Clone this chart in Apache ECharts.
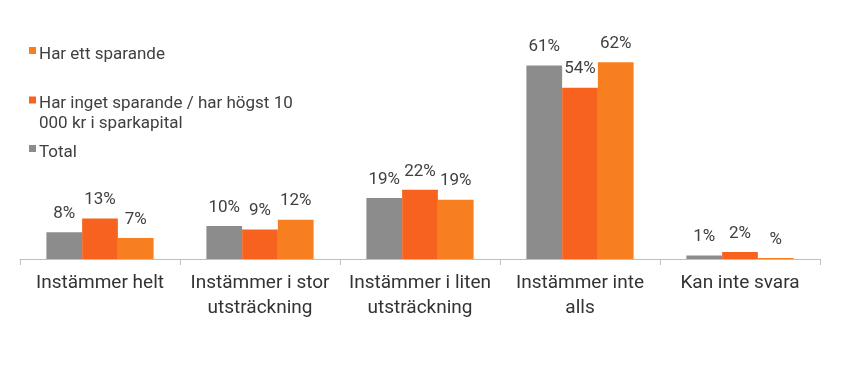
<!DOCTYPE html>
<html>
<head>
<meta charset="utf-8">
<script src="https://cdn.jsdelivr.net/npm/echarts@6/dist/echarts.min.js"></script>
<style>html,body{margin:0;padding:0;background:#fff;}#c{width:848px;height:367px;}</style>
</head>
<body>
<div id="c"></div>
<script>
var categories = ['Instämmer helt', 'Instämmer i stor\nutsträckning', 'Instämmer i liten\nutsträckning', 'Instämmer inte\nalls', 'Kan inte svara'];
var seriesNames = ['Total', 'Har inget sparande / har högst 10\n000 kr i sparkapital', 'Har ett sparande'];
var totalValues = [8.4, 10.4, 19.2, 61, 1.1];
var ingetValues = [12.8, 9.3, 21.8, 54, 2.2];
var ettValues = [6.6, 12.4, 18.7, 62, 0.3];
var valueLabels = {
  total: ['8%', '10%', '19%', '61%', '1%'],
  inget: ['13%', '9%', '22%', '54%', '2%'],
  ett: ['7%', '12%', '19%', '62%', '%']
};
var colors = ['#8c8c8c', '#f7621e', '#f87f1f'];
var FONT = 'Roboto';

var chart = echarts.init(document.getElementById('c'), null, {renderer: 'canvas'});
function mkSeries(name, data, labels, color) {
  return {
    name: name, type: 'bar', data: data, barGap: '0%', barCategoryGap: '33%',
    itemStyle: {color: color},
    label: {show: true, position: 'top', distance: 10, color: '#404040', fontFamily: FONT, fontSize: 17,
      formatter: function (p) { return labels[p.dataIndex]; }}
  };
}
function mkLegend(name, top, iconH) {
  return {
    data: [name], left: 24, top: top, orient: 'vertical', itemWidth: 7, itemHeight: iconH, itemGap: 4,
    icon: 'path://M0,0L7,0L7,7L0,7Z M0,' + iconH + 'L0.01,' + iconH + 'L0.01,' + (iconH - 0.01) + 'Z',
    textStyle: {color: '#404040', fontFamily: FONT, fontSize: 17, lineHeight: 20, padding: [0, 0, 0, -2]}
  };
}
chart.setOption({
  animation: false,
  legend: [mkLegend(seriesNames[2], 40, 16), mkLegend(seriesNames[1], 89, 35), mkLegend(seriesNames[0], 138, 16)],
  grid: {left: 20, right: 28, top: 37, bottom: 108, containLabel: false},
  xAxis: {
    type: 'category', data: categories,
    axisLine: {lineStyle: {color: '#bfbfbf', width: 1}},
    axisTick: {show: true, alignWithLabel: false, length: 6, lineStyle: {color: '#bfbfbf'}},
    axisLabel: {color: '#333', fontFamily: FONT, fontSize: 19, lineHeight: 25, margin: 12, interval: 0}
  },
  yAxis: {type: 'value', min: 0, max: 70, show: false, splitLine: {show: false}},
  series: [
    mkSeries(seriesNames[0], totalValues, valueLabels.total, colors[0]),
    mkSeries(seriesNames[1], ingetValues, valueLabels.inget, colors[1]),
    mkSeries(seriesNames[2], ettValues, valueLabels.ett, colors[2])
  ]
});
</script>
</body>
</html>
